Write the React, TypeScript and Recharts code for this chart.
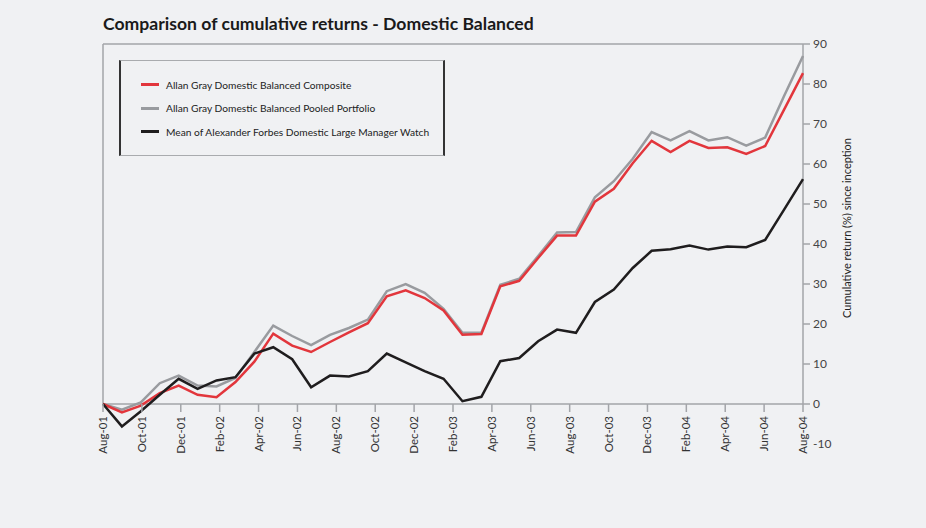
import React from 'react';
import { LineChart, Line, XAxis, YAxis, ReferenceLine, Legend } from 'recharts';

// month-end values, inception (0) through Aug-04
const composite = [
  0, -2.1, -0.4, 2.7, 4.6, 2.3, 1.7, 5.5, 10.6, 17.6, 14.6, 13.0, 15.5, 17.9, 20.2, 26.9, 28.4, 26.5, 23.4,
  17.3, 17.5, 29.4, 30.8, 36.5, 42.1, 42.1, 50.6, 53.8, 60.2, 65.8, 63.0, 65.8, 64.0, 64.2, 62.5, 64.5, 73.6, 82.7,
];
const pooled = [
  0, -1.4, 0.4, 5.2, 7.1, 4.6, 4.4, 6.5, 13.0, 19.6, 17.0, 14.7, 17.3, 19.0, 21.1, 28.2, 30.0, 27.8, 23.8,
  17.8, 17.8, 29.8, 31.3, 37.0, 42.9, 43.0, 51.7, 55.7, 61.3, 68.0, 65.9, 68.2, 65.9, 66.7, 64.6, 66.6, 77.0, 87.0,
];
const meanAF = [
  0, -5.6, -1.8, 2.3, 6.3, 3.8, 5.9, 6.7, 12.6, 14.2, 11.2, 4.2, 7.1, 6.9, 8.2, 12.6, 10.4, 8.2, 6.3,
  0.7, 1.8, 10.7, 11.5, 15.7, 18.6, 17.8, 25.5, 28.6, 34.0, 38.3, 38.7, 39.6, 38.6, 39.4, 39.2, 41.0, 48.6, 56.2,
];
const monthLabels = [
  'Aug-01', 'Oct-01', 'Dec-01', 'Feb-02', 'Apr-02', 'Jun-02', 'Aug-02', 'Oct-02', 'Dec-02', 'Feb-03',
  'Apr-03', 'Jun-03', 'Aug-03', 'Oct-03', 'Dec-03', 'Feb-04', 'Apr-04', 'Jun-04', 'Aug-04',
];
const yTicks = [-10, 0, 10, 20, 30, 40, 50, 60, 70, 80, 90];

const series = [
  { key: 'composite', name: 'Allan Gray Domestic Balanced Composite', color: '#e2363c' },
  { key: 'pooled', name: 'Allan Gray Domestic Balanced Pooled Portfolio', color: '#999b9f' },
  { key: 'mean', name: 'Mean of Alexander Forbes Domestic Large Manager Watch', color: '#1f1d1e' },
];

const data = composite.map((v, i) => ({ i, composite: v, pooled: pooled[i], mean: meanAF[i] }));
const last = data.length - 1;
const xTicks = monthLabels.map((_, k) => (k * last) / (monthLabels.length - 1));

const FONT = 'Lato, "Noto Sans", sans-serif';
const AXIS = '#a3a5a9';
const Y_MIN = -10;
const Y_MAX = 90;
const PLOT_H = 400;
// x axis sits on the zero line, not on the bottom of the plot
const ZERO_SHIFT = (PLOT_H * (0 - Y_MIN)) / (Y_MAX - Y_MIN);

const XTick = (props: any) => {
  const { x, y, payload } = props;
  const k = Math.round((payload.value * (monthLabels.length - 1)) / last);
  const y0 = y - ZERO_SHIFT;
  return (
    <g>
      <line x1={x} y1={y0} x2={x} y2={y0 + 8} stroke={AXIS} strokeWidth={1.5} />
      <text
        transform={`translate(${x + 4},${y0 + 12}) rotate(-90)`}
        textAnchor="end"
        fontSize={11.5}
        fontFamily={FONT}
        fill="#333"
      >
        {monthLabels[k]}
      </text>
    </g>
  );
};

const YTick = (props: any) => {
  const { x, y, payload } = props;
  return (
    <g>
      {payload.value >= 0 && <line x1={x} y1={y} x2={x + 7} y2={y} stroke={AXIS} strokeWidth={1.5} />}
      <text x={x + 10} y={y + 4} fontSize={12} fontFamily={FONT} fill="#444">
        {payload.value}
      </text>
    </g>
  );
};

const LegendBox = () => (
  <div
    style={{
      width: 326,
      height: 96,
      boxSizing: 'border-box',
      borderTop: '1.5px solid #a9abae',
      borderBottom: '1.5px solid #a9abae',
      borderLeft: '2px solid #333',
      borderRight: '2px solid #333',
      padding: '12px 0 0 20px',
      fontFamily: FONT,
      fontSize: 10.2,
      color: '#222',
    }}
  >
    {series.map((s) => (
      <div key={s.key} style={{ display: 'flex', alignItems: 'center', height: 23.5 }}>
        <div style={{ width: 18, height: 3, background: s.color, marginRight: 7 }} />
        <span>{s.name}</span>
      </div>
    ))}
  </div>
);

export default function App() {
  return (
    <div style={{ position: 'absolute', left: 0, top: 0, width: 926, height: 528, background: '#f0f1f3' }}>
      <div
        style={{
          position: 'absolute',
          left: 103,
          top: 13,
          fontFamily: FONT,
          fontWeight: 700,
          fontSize: 17.6,
          color: '#1a1a1a',
        }}
      >
        Comparison of cumulative returns - Domestic Balanced
      </div>
      <div
        style={{
          position: 'absolute',
          left: 846,
          top: 228,
          transform: 'translate(-50%, -50%) rotate(-90deg)',
          whiteSpace: 'nowrap',
          fontFamily: FONT,
          fontSize: 11,
          color: '#222',
        }}
      >
        Cumulative return (%) since inception
      </div>
      <LineChart
        width={926}
        height={528}
        data={data}
        margin={{ top: 44, left: 103, right: 83, bottom: 54 }}
      >
        <XAxis
          type="number"
          dataKey="i"
          domain={[0, last]}
          ticks={xTicks}
          interval={0}
          axisLine={false}
          tickLine={false}
          tickSize={0}
          tickMargin={0}
          height={30}
          tick={<XTick />}
        />
        <YAxis
          orientation="right"
          domain={[Y_MIN, Y_MAX]}
          ticks={yTicks}
          interval={0}
          axisLine={false}
          tickLine={false}
          tickSize={0}
          tickMargin={0}
          width={40}
          tick={<YTick />}
        />
        <ReferenceLine y={90} stroke={AXIS} strokeWidth={1.5} />
        <ReferenceLine y={0} stroke={AXIS} strokeWidth={1.5} />
        <ReferenceLine segment={[{ x: 0, y: 0 }, { x: 0, y: 90 }]} stroke={AXIS} strokeWidth={1.5} />
        <ReferenceLine segment={[{ x: last, y: 0 }, { x: last, y: 90 }]} stroke={AXIS} strokeWidth={1.5} />
        <Legend
          layout="horizontal"
          verticalAlign="middle"
          align="center"
          content={<LegendBox />}
          wrapperStyle={{ position: 'absolute', left: 119, top: 60, width: 'auto' }}
        />
        <Line type="linear" dataKey="pooled" stroke="#999b9f" strokeWidth={2.5} dot={false} isAnimationActive={false} />
        <Line type="linear" dataKey="composite" stroke="#e2363c" strokeWidth={2.5} dot={false} isAnimationActive={false} />
        <Line type="linear" dataKey="mean" stroke="#1f1d1e" strokeWidth={2.5} dot={false} isAnimationActive={false} />
      </LineChart>
    </div>
  );
}
